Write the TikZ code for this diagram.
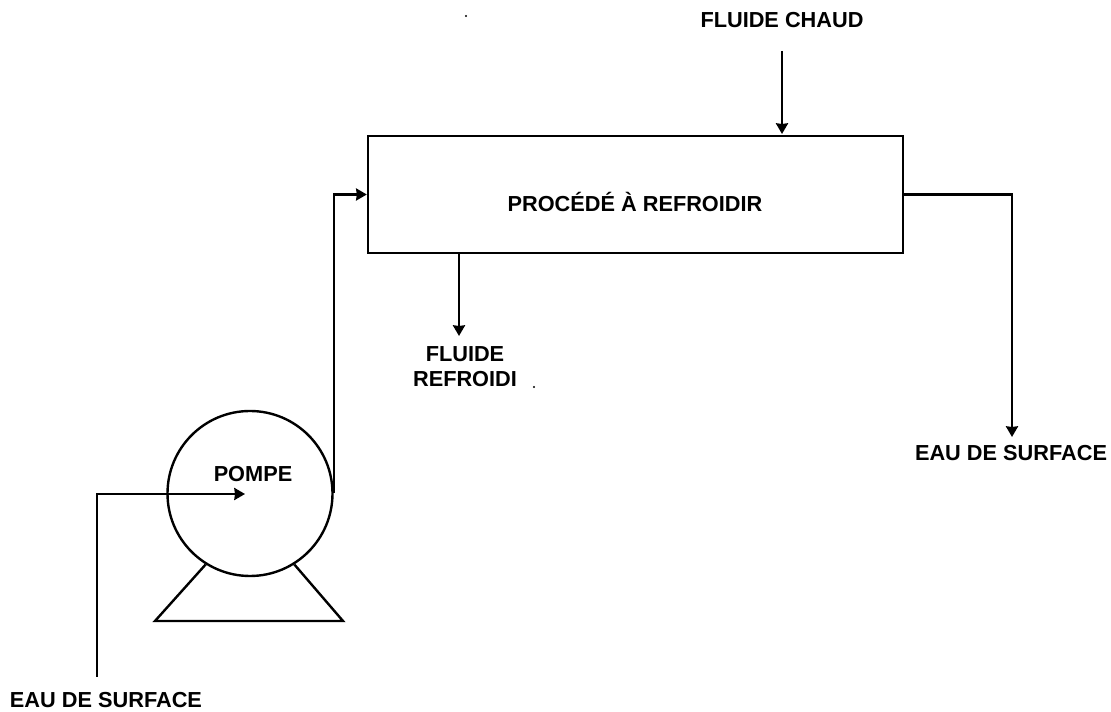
\documentclass[tikz,border=0pt]{standalone}
\usepackage{fontspec}
\setmainfont{Liberation Sans}
\usetikzlibrary{arrows.meta}
\tikzset{
 line/.style={draw=black,line width=1.8pt},
 flow/.style={line,-{Stealth[length=8pt,width=9pt,inset=0.5pt]}},
 lab/.style={font=\fontsize{16.3pt}{18.75pt}\selectfont\bfseries,align=center,text=black,inner sep=0pt},
 speck/.style={fill=black,draw=none,circle,inner sep=0pt,minimum size=1.6pt},
}
\begin{document}
\begin{tikzpicture}[x=0.75pt,y=-0.75pt]
\useasboundingbox (0,0) rectangle (1111,712);
\node[line,minimum width=535*0.75pt,minimum height=117*0.75pt,inner sep=0pt] (proc) at (635.5,194.5) {};
\node[lab] (proclab) at (635,202) {PROCÉDÉ À REFROIDIR};
\node[lab] (hot) at (782,20) {FLUIDE CHAUD};
\node[lab] (cool) at (465,367) {FLUIDE\\REFROIDI};
\node[lab] (out) at (1011,453) {EAU DE SURFACE};
\node[lab] (in) at (106,700) {EAU DE SURFACE};
\node[line,circle,minimum size=165*0.75pt,inner sep=0pt] (pump) at (250,493.5) {};
\node[lab] (pumplab) at (253,474) {POMPE};
\coordinate (pcen) at (245,494);
\coordinate (hots) at (782,51);
\coordinate (hote) at (782,134);
\coordinate (coole) at (459,336);
\coordinate (oute) at (1012,437);
\coordinate (ins) at (97,677);
\coordinate (basel) at (155,621);
\coordinate (baser) at (343,621);
\draw[flow] (hots) -- (hote);
\draw[flow] (proc.south -| coole) -- (coole);
\draw[flow] (proc.east) -| (oute);
\draw[flow] (ins) |- (pcen);
\draw[flow] (pump.east) |- (proc.west);
\draw[line] (pump.-122) -- (basel) -- (baser) -- (pump.-58);
\node[speck] (s1) at (466,16) {};
\node[speck] (s2) at (534,387) {};
\end{tikzpicture}
\end{document}
